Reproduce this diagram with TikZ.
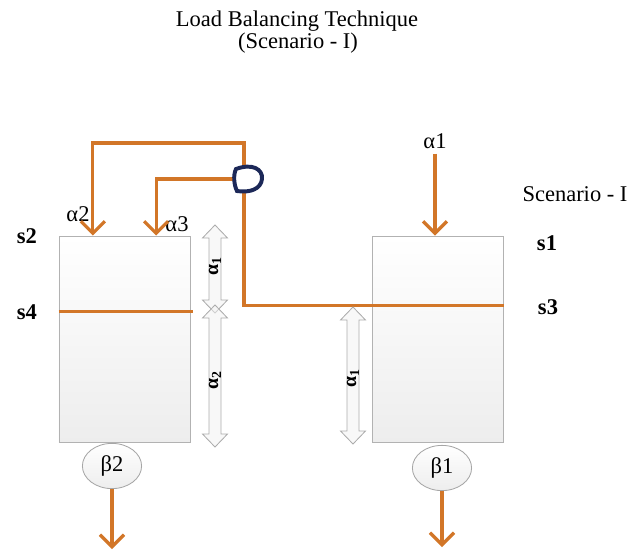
\documentclass[tikz,border=0pt]{standalone}
\usepackage{fontspec}
\setmainfont{Liberation Serif}
\usetikzlibrary{arrows.meta,positioning,calc,shapes.geometric}
\definecolor{wireorange}{RGB}{210,118,40}
\definecolor{jumpnavy}{RGB}{28,40,88}

\begin{document}
\begin{tikzpicture}[x=0.025cm, y=-0.025cm, >={Straight Barb[length=3mm,width=6mm]},
    every node/.style={align=center, font=\fontsize{16}{19}\selectfont},
    wire/.style={line width=2.3pt, wireorange},
    tank/.style={draw=gray!60, line width=0.6pt, top color=white, bottom color=gray!14,
      minimum width=3.275cm, minimum height=5.15cm, inner sep=0pt},
    outlet/.style={ellipse, draw=gray!70, line width=0.6pt, top color=white, bottom color=gray!14,
      minimum width=1.48cm, minimum height=1.13cm, inner sep=0pt},
    tag/.style={font=\fontsize{16}{19}\selectfont\bfseries}]
    \useasboundingbox (0,0) rectangle (641,549);
    \node (title) at (297,21) {Load Balancing Technique};
    \node (subtitle) at (298,43) {(Scenario - I)};
    \node (scn) at (575,194) {Scenario - I};

    \node[tank] (lbox) at (124.5,339) {};
    \node[tank] (rbox) at (438,339) {};
    \node[tag] (s2) at (27,236) {s2};
    \node[tag] (s4) at (27,312) {s4};
    \node[tag] (s1) at (547,243) {s1};
    \node[tag] (s3) at (548,307) {s3};

    \node (a2) at (78,214) {α2};
    \node (a3) at (177,224) {α3};
    \node (a1) at (435,141) {α1};

    \coordinate (jn) at (244,179);
    \coordinate (in2) at ($(lbox.north west)!0.26!(lbox.north east)$);
    \coordinate (in3) at ($(lbox.north west)!0.74!(lbox.north east)$);

    \draw[wire,->] (jn) -- ++(0,-36) -| (in2);
    \draw[wire,->] (jn) -| (in3);
    \draw[wire] (jn) |- ($(rbox.north east)+(0,70)$);
    \draw[wire] ($(lbox.north west)+(0,76)$) -- ++(134,0);
    \draw[wire,->] (a1.south) -- (a1.south |- rbox.north);
    \draw[jumpnavy, line width=2.8pt, fill=white] ($(jn)+(-8,-10)$)
      .. controls ($(jn)+(8,-16)$) and ($(jn)+(19,-10)$) .. ($(jn)+(18,0)$)
      .. controls ($(jn)+(17,10)$) and ($(jn)+(6,14)$) .. ($(jn)+(-7,12)$)
      .. controls ($(jn)+(-10,6)$) and ($(jn)+(-11,-4)$) .. cycle;

    \foreach \x/\ya/\yb/\k/\ly in {215/225/313/1/266, 215/305/447/2/380, 353/307/444/1/378} {
      \draw[gray!65, fill=gray!10, fill opacity=0.5, line width=0.6pt] (\x,\ya) -- (\x+12.5,\ya+13)
        -- (\x+6,\ya+13) -- (\x+6,\yb-13) -- (\x+12.5,\yb-13) -- (\x,\yb) -- (\x-12.5,\yb-13)
        -- (\x-6,\yb-13) -- (\x-6,\ya+13) -- (\x-12.5,\ya+13) -- cycle;
      \node[rotate=90, font=\fontsize{14}{16}\selectfont\bfseries] at (\x,\ly) {α\textsubscript{\k}};
    }

    \node[outlet] (b2) at (112,466) {β2};
    \node[outlet] (b1) at (442,468) {β1};
    \draw[wire,->] (b2.south) -- ++(0,60);
    \draw[wire,->] (b1.south) -- ++(0,56);
  \end{tikzpicture}
\end{document}
